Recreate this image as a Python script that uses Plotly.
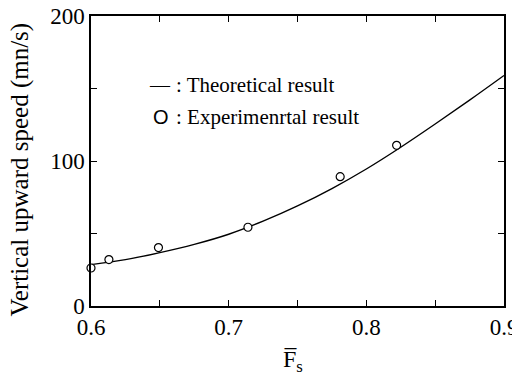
import plotly.graph_objects as go

# Theoretical curve
theory_x = [0.600, 0.625, 0.650, 0.675, 0.700, 0.725, 0.750, 0.775, 0.800, 0.825, 0.850, 0.875, 0.900]
theory_y = [28.5, 32.0, 36.8, 42.5, 49.5, 58.5, 69.0, 81.0, 94.5, 109.5, 125.5, 142.0, 159.0]

# Experimental points
exp_x = [0.600, 0.613, 0.649, 0.714, 0.781, 0.822]
exp_y = [26.2, 32.0, 40.3, 54.3, 89.2, 110.8]

x_ticks = [0.6, 0.7, 0.8, 0.9]
x_tick_labels = ["0.6", "0.7", "0.8", "0.9"]
y_ticks = [0, 100, 200]
y_tick_labels = ["0", "100", "200"]

x_title = "F\u0305<sub>s</sub>"
y_title = "Vertical upward speed (mn/s)"
legend_line_text = ": Theoretical result"
legend_marker_text = ": Experimenrtal result"

# page body has an 8px margin, so the figure sits at (8, 8)
OFF = 8
W, H = 520 - OFF, 379 - OFF
L, R, T, B = 91 - OFF, 16, 16 - OFF, 73
pw, ph = W - L - R, H - T - B

def px(x):
    return (x - OFF - L) / pw

def py(y):
    return 1 - (y - OFF - T) / ph

serif = "Liberation Serif"

fig = go.Figure()
fig.add_trace(go.Scatter(x=theory_x, y=theory_y, mode="lines",
                         line=dict(color="black", width=1.4, shape="spline"),
                         showlegend=False))
fig.add_trace(go.Scatter(x=exp_x, y=exp_y, mode="markers",
                         marker=dict(symbol="circle", size=8, color="white",
                                     line=dict(color="black", width=1.2)),
                         showlegend=False, cliponaxis=False))

axis_common = dict(showline=True, linecolor="black", linewidth=1.5, mirror="ticks",
                   ticks="inside", ticklen=6, tickwidth=1.2, tickcolor="black",
                   showgrid=False, zeroline=False, automargin=False,
                   ticklabeloverflow="allow",
                   tickfont=dict(family=serif, size=23, color="black"))

fig.update_xaxes(range=[0.6, 0.9], tickvals=x_ticks, ticktext=x_tick_labels,
                 minor=dict(tickvals=[0.65, 0.75, 0.85], ticks="inside", ticklen=6,
                            tickwidth=1.2, tickcolor="black", showgrid=False),
                 **axis_common)
fig.update_yaxes(range=[0, 200], tickvals=y_ticks, ticktext=y_tick_labels,
                 minor=dict(tickvals=[50, 150], ticks="inside", ticklen=6,
                            tickwidth=1.2, tickcolor="black", showgrid=False),
                 **axis_common)

annos = [
    dict(x=px(19), y=py(169.5), text=y_title, textangle=-90, xanchor="center", yanchor="middle",
         font=dict(family=serif, size=25, color="black")),
    dict(x=px(293), y=py(361), text=x_title, xanchor="center", yanchor="middle",
         font=dict(family=serif, size=24, color="black")),
    dict(x=px(160), y=py(85), text="\u2014", xanchor="center", yanchor="middle",
         font=dict(family=serif, size=20, color="black")),
    dict(x=px(174), y=py(85), text=legend_line_text, xanchor="left", yanchor="middle",
         font=dict(family=serif, size=21, color="black")),
    dict(x=px(161), y=py(117), text="O", xanchor="center", yanchor="middle",
         font=dict(family="Liberation Sans", size=20, color="black")),
    dict(x=px(174), y=py(117), text=legend_marker_text, xanchor="left", yanchor="middle",
         font=dict(family=serif, size=21, color="black")),
]
for a in annos:
    a.update(xref="paper", yref="paper", showarrow=False)

fig.update_layout(width=W, height=H, margin=dict(l=L, r=R, t=T, b=B),
                  paper_bgcolor="white", plot_bgcolor="white",
                  annotations=annos, showlegend=False)

fig.write_html("out.html")
